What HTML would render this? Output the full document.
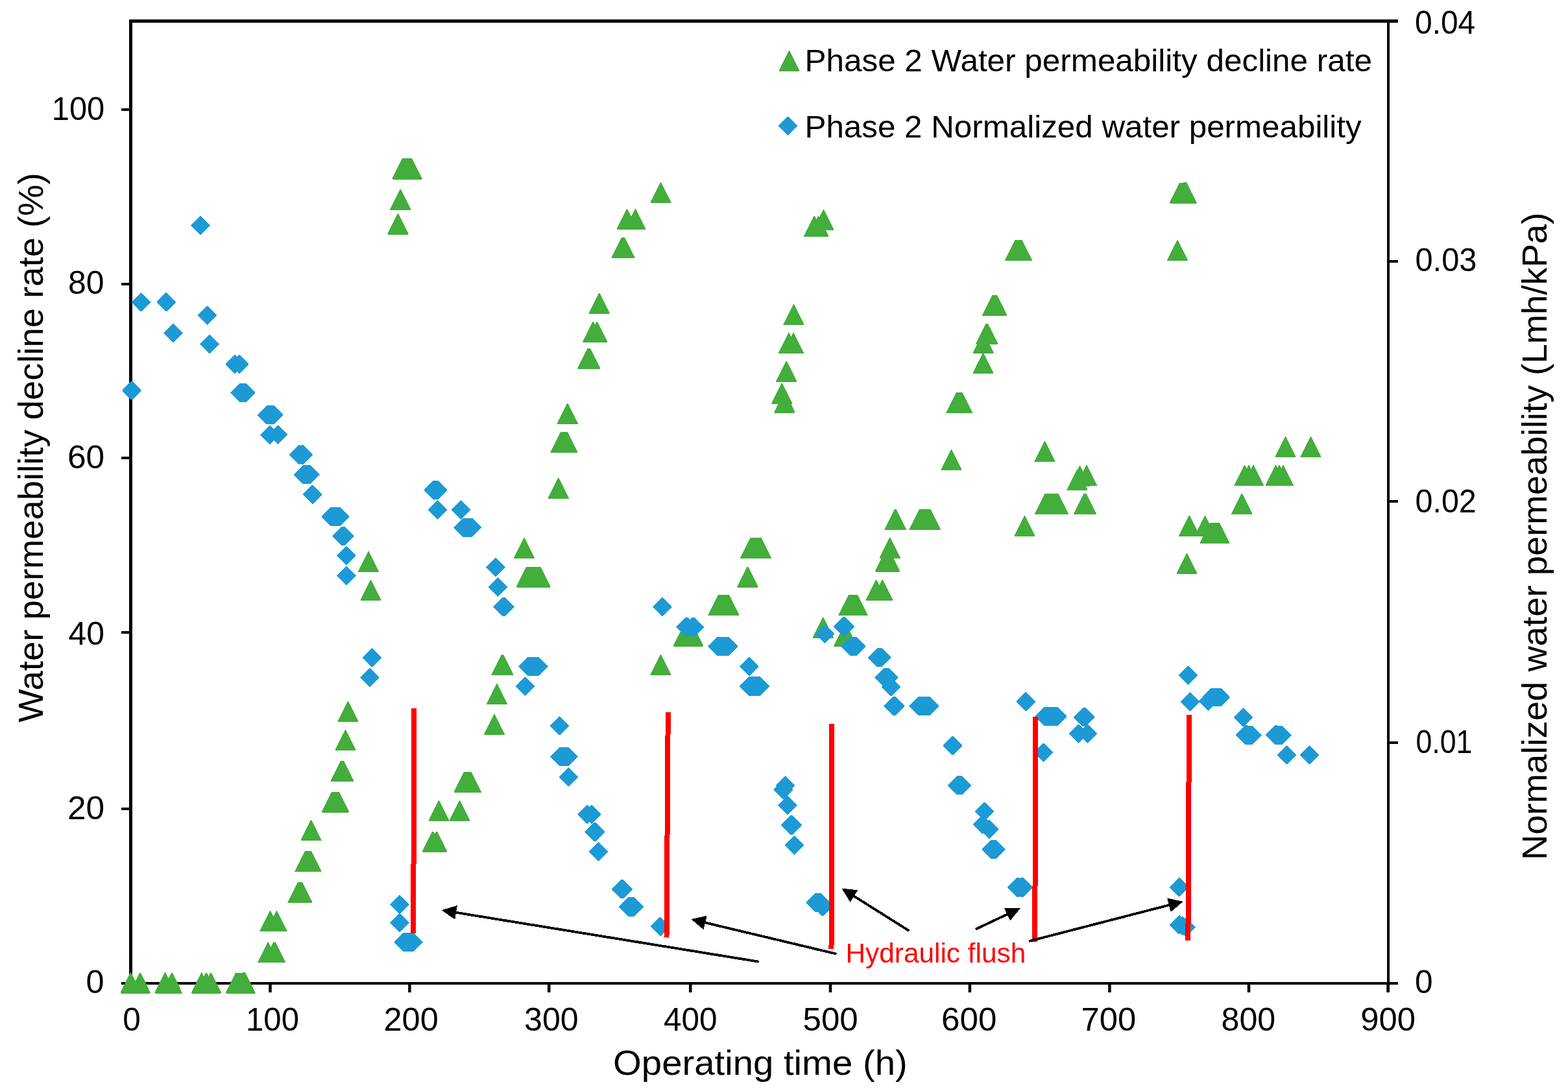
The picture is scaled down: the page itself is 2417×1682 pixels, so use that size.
<!DOCTYPE html><html><head><meta charset="utf-8"><title>Water permeability chart</title>
<style>html,body{margin:0;padding:0;background:#fff;}svg{display:block;}text{font-family:'Liberation Sans',Arial,Helvetica,sans-serif;}</style></head><body>
<svg width="2417" height="1682" viewBox="0 0 2417 1682">
<rect width="2417" height="1682" fill="#fff"/>
<g fill="#000">
<rect x="199" y="30" width="5" height="1488"/>
<rect x="199" y="30" width="1956" height="5"/>
<rect x="2138" y="30" width="4" height="1500"/>
<rect x="187" y="1514" width="1968" height="4"/>
<rect x="187" y="1514" width="12" height="4"/>
<rect x="187" y="1245" width="12" height="4"/>
<rect x="187" y="973" width="12" height="4"/>
<rect x="187" y="704" width="12" height="4"/>
<rect x="187" y="436" width="12" height="4"/>
<rect x="187" y="167" width="12" height="4"/>
<rect x="199.25" y="1518" width="4.5" height="12"/>
<rect x="414.25" y="1518" width="4.5" height="12"/>
<rect x="629.15" y="1518" width="4.5" height="12"/>
<rect x="844.0" y="1518" width="4.5" height="12"/>
<rect x="1062.0" y="1518" width="4.5" height="12"/>
<rect x="1277.75" y="1518" width="4.5" height="12"/>
<rect x="1492.65" y="1518" width="4.5" height="12"/>
<rect x="1708.15" y="1518" width="4.5" height="12"/>
<rect x="1922.75" y="1518" width="4.5" height="12"/>
<rect x="2137.25" y="1518" width="4.5" height="12"/>
<rect x="2142" y="1514" width="13" height="4"/>
<rect x="2142" y="1143" width="13" height="4"/>
<rect x="2142" y="771" width="13" height="4"/>
<rect x="2142" y="401" width="13" height="4"/>
<rect x="2142" y="30" width="13" height="4"/>
</g>
<text font-size="49.5" fill="#000" x="132.5" y="1531" textLength="28.03" lengthAdjust="spacingAndGlyphs">0</text>
<text font-size="49.5" fill="#000" x="104.0" y="1263.1" textLength="57.23" lengthAdjust="spacingAndGlyphs">20</text>
<text font-size="49.5" fill="#000" x="105.5" y="993.75" textLength="55.49" lengthAdjust="spacingAndGlyphs">40</text>
<text font-size="49.5" fill="#000" x="104.0" y="721.7" textLength="57.23" lengthAdjust="spacingAndGlyphs">60</text>
<text font-size="49.5" fill="#000" x="105.0" y="452.8" textLength="55.51" lengthAdjust="spacingAndGlyphs">80</text>
<text font-size="49.5" fill="#000" x="79.75" y="185" textLength="81.53" lengthAdjust="spacingAndGlyphs">100</text>
<text font-size="49.5" fill="#000" x="2181.0" y="1530.75" textLength="27.55" lengthAdjust="spacingAndGlyphs">0</text>
<text font-size="49.5" fill="#000" x="2182.5" y="1161" textLength="86.92" lengthAdjust="spacingAndGlyphs">0.01</text>
<text font-size="49.5" fill="#000" x="2181.5" y="789.5" textLength="94.25" lengthAdjust="spacingAndGlyphs">0.02</text>
<text font-size="49.5" fill="#000" x="2181.5" y="418.4" textLength="94.91" lengthAdjust="spacingAndGlyphs">0.03</text>
<text font-size="49.5" fill="#000" x="2181.0" y="52" textLength="93.24" lengthAdjust="spacingAndGlyphs">0.04</text>
<text font-size="49.5" fill="#000" x="189.25" y="1588.8" textLength="27.55" lengthAdjust="spacingAndGlyphs">0</text>
<text font-size="49.5" fill="#000" x="379.0" y="1588.8" textLength="81.97" lengthAdjust="spacingAndGlyphs">100</text>
<text font-size="49.5" fill="#000" x="591.5" y="1588.8" textLength="84.27" lengthAdjust="spacingAndGlyphs">200</text>
<text font-size="49.5" fill="#000" x="808.0" y="1588.8" textLength="83.64" lengthAdjust="spacingAndGlyphs">300</text>
<text font-size="49.5" fill="#000" x="1023.0" y="1588.8" textLength="82.59" lengthAdjust="spacingAndGlyphs">400</text>
<text font-size="49.5" fill="#000" x="1237.5" y="1588.8" textLength="85.14" lengthAdjust="spacingAndGlyphs">500</text>
<text font-size="49.5" fill="#000" x="1451.0" y="1588.8" textLength="85.35" lengthAdjust="spacingAndGlyphs">600</text>
<text font-size="49.5" fill="#000" x="1666.5" y="1588.8" textLength="84.71" lengthAdjust="spacingAndGlyphs">700</text>
<text font-size="49.5" fill="#000" x="1882.5" y="1588.8" textLength="83.68" lengthAdjust="spacingAndGlyphs">800</text>
<text font-size="49.5" fill="#000" x="2097.25" y="1588.8" textLength="84.72" lengthAdjust="spacingAndGlyphs">900</text>
<text font-size="54" fill="#000" x="945.0" y="1656.9" textLength="453.84" lengthAdjust="spacingAndGlyphs">Operating time (h)</text>
<text font-size="54" fill="#000" transform="translate(65.9,1113.75) rotate(-90)" textLength="847.34" lengthAdjust="spacingAndGlyphs">Water permeability decline rate (%)</text>
<text font-size="54" fill="#000" transform="translate(2384.25,1326.0) rotate(-90)" textLength="998.39" lengthAdjust="spacingAndGlyphs">Normalized water permeability (Lmh/kPa)</text>
<text font-size="48" fill="#000" x="1240.5" y="110" textLength="874.47" lengthAdjust="spacingAndGlyphs">Phase 2 Water permeability decline rate</text>
<text font-size="48" fill="#000" x="1240.5" y="212" textLength="858.14" lengthAdjust="spacingAndGlyphs">Phase 2 Normalized water permeability</text>
<path d="M1201.50,109.00L1231.50,109.00L1216.50,79.00Z" fill="#43AE3B" stroke="#43AE3B" stroke-width="2" stroke-linejoin="round" shape-rendering="crispEdges"/>
<path d="M1214.40,180.60L1228.00,194.20L1214.40,207.80L1200.80,194.20Z" fill="#1D9AD6" stroke="#1D9AD6" stroke-width="2" stroke-linejoin="round" shape-rendering="crispEdges"/>
<g fill="#43AE3B" stroke="#43AE3B" stroke-width="2" stroke-linejoin="round" shape-rendering="crispEdges"><path d="M186.60,1530.50L216.60,1530.50L201.60,1500.50ZM200.90,1530.50L230.90,1530.50L215.90,1500.50ZM239.50,1530.50L269.50,1530.50L254.50,1500.50ZM249.90,1530.50L279.90,1530.50L264.90,1500.50ZM295.70,1530.50L325.70,1530.50L310.70,1500.50ZM302.90,1530.50L332.90,1530.50L317.90,1500.50ZM310.00,1530.50L340.00,1530.50L325.00,1500.50ZM348.70,1530.50L378.70,1530.50L363.70,1500.50ZM349.76,1530.50L379.76,1530.50L364.76,1500.50ZM350.82,1530.50L380.82,1530.50L365.82,1500.50ZM351.88,1530.50L381.88,1530.50L366.88,1500.50ZM352.95,1530.50L382.95,1530.50L367.95,1500.50ZM354.01,1530.50L384.01,1530.50L369.01,1500.50ZM355.07,1530.50L385.07,1530.50L370.07,1500.50ZM356.13,1530.50L386.13,1530.50L371.13,1500.50ZM357.19,1530.50L387.19,1530.50L372.19,1500.50ZM358.25,1530.50L388.25,1530.50L373.25,1500.50ZM359.32,1530.50L389.32,1530.50L374.32,1500.50ZM360.38,1530.50L390.38,1530.50L375.38,1500.50ZM361.44,1530.50L391.44,1530.50L376.44,1500.50ZM362.50,1530.50L392.50,1530.50L377.50,1500.50ZM401.50,1435.30L431.50,1435.30L416.50,1405.30ZM411.70,1435.30L441.70,1435.30L426.70,1405.30ZM398.20,1483.40L428.20,1483.40L413.20,1453.40ZM406.70,1483.41L436.70,1483.41L421.70,1453.41ZM407.95,1483.41L437.95,1483.41L422.95,1453.41ZM409.20,1483.41L439.20,1483.41L424.20,1453.41ZM444.40,1391.30L474.40,1391.30L459.40,1361.30ZM445.42,1391.30L475.42,1391.30L460.42,1361.30ZM446.43,1391.30L476.43,1391.30L461.43,1361.30ZM447.45,1391.30L477.45,1391.30L462.45,1361.30ZM448.47,1391.30L478.47,1391.30L463.47,1361.30ZM449.48,1391.30L479.48,1391.30L464.48,1361.30ZM450.50,1391.30L480.50,1391.30L465.50,1361.30ZM455.40,1343.30L485.40,1343.30L470.40,1313.30ZM456.40,1343.30L486.40,1343.30L471.40,1313.30ZM457.40,1343.30L487.40,1343.30L472.40,1313.30ZM458.40,1343.30L488.40,1343.30L473.40,1313.30ZM459.40,1343.30L489.40,1343.30L474.40,1313.30ZM460.40,1343.30L490.40,1343.30L475.40,1313.30ZM461.40,1343.30L491.40,1343.30L476.40,1313.30ZM462.40,1343.30L492.40,1343.30L477.40,1313.30ZM463.40,1343.30L493.40,1343.30L478.40,1313.30ZM464.40,1343.30L494.40,1343.30L479.40,1313.30ZM464.60,1295.40L494.60,1295.40L479.60,1265.40ZM497.00,1251.50L527.00,1251.50L512.00,1221.50ZM498.00,1251.50L528.00,1251.50L513.00,1221.50ZM499.00,1251.50L529.00,1251.50L514.00,1221.50ZM500.00,1251.50L530.00,1251.50L515.00,1221.50ZM501.00,1251.50L531.00,1251.50L516.00,1221.50ZM502.00,1251.50L532.00,1251.50L517.00,1221.50ZM503.00,1251.50L533.00,1251.50L518.00,1221.50ZM504.00,1251.50L534.00,1251.50L519.00,1221.50ZM505.00,1251.50L535.00,1251.50L520.00,1221.50ZM506.00,1251.50L536.00,1251.50L521.00,1221.50ZM507.00,1251.50L537.00,1251.50L522.00,1221.50ZM510.75,1204.10L540.75,1204.10L525.75,1174.10ZM511.92,1204.10L541.92,1204.10L526.92,1174.10ZM513.08,1204.10L543.08,1204.10L528.08,1174.10ZM514.25,1204.10L544.25,1204.10L529.25,1174.10ZM517.50,1156.00L547.50,1156.00L532.50,1126.00ZM521.50,1112.10L551.50,1112.10L536.50,1082.10ZM553.00,880.90L583.00,880.90L568.00,850.90ZM556.50,925.00L586.50,925.00L571.50,895.00ZM1335.65,925.00L1365.65,925.00L1350.65,895.00ZM1345.35,925.00L1375.35,925.00L1360.35,895.00ZM598.50,360.50L628.50,360.50L613.50,330.50ZM602.25,323.00L632.25,323.00L617.25,293.00ZM605.50,275.50L635.50,275.50L620.50,245.50ZM606.50,275.50L636.50,275.50L621.50,245.50ZM607.50,275.50L637.50,275.50L622.50,245.50ZM608.50,275.50L638.50,275.50L623.50,245.50ZM609.50,275.50L639.50,275.50L624.50,245.50ZM610.50,275.50L640.50,275.50L625.50,245.50ZM611.50,275.50L641.50,275.50L626.50,245.50ZM612.50,275.50L642.50,275.50L627.50,245.50ZM613.50,275.50L643.50,275.50L628.50,245.50ZM614.50,275.50L644.50,275.50L629.50,245.50ZM615.50,275.50L645.50,275.50L630.50,245.50ZM616.50,275.50L646.50,275.50L631.50,245.50ZM617.50,275.50L647.50,275.50L632.50,245.50ZM618.50,275.50L648.50,275.50L633.50,245.50ZM619.50,275.50L649.50,275.50L634.50,245.50ZM651.90,1312.50L681.90,1312.50L666.90,1282.50ZM658.00,1312.50L688.00,1312.50L673.00,1282.50ZM661.50,1265.00L691.50,1265.00L676.50,1235.00ZM693.40,1265.00L723.40,1265.00L708.40,1235.00ZM700.75,1220.90L730.75,1220.90L715.75,1190.90ZM701.75,1220.90L731.75,1220.90L716.75,1190.90ZM702.75,1220.90L732.75,1220.90L717.75,1190.90ZM703.75,1220.90L733.75,1220.90L718.75,1190.90ZM704.75,1220.90L734.75,1220.90L719.75,1190.90ZM705.75,1220.90L735.75,1220.90L720.75,1190.90ZM706.75,1220.90L736.75,1220.90L721.75,1190.90ZM707.75,1220.90L737.75,1220.90L722.75,1190.90ZM708.75,1220.90L738.75,1220.90L723.75,1190.90ZM709.75,1220.90L739.75,1220.90L724.75,1190.90ZM710.75,1220.90L740.75,1220.90L725.75,1190.90ZM747.10,1132.10L777.10,1132.10L762.10,1102.10ZM750.90,1085.00L780.90,1085.00L765.90,1055.00ZM758.40,1040.40L788.40,1040.40L773.40,1010.40ZM760.35,1040.40L790.35,1040.40L775.35,1010.40ZM1003.50,1040.40L1033.50,1040.40L1018.50,1010.40ZM792.90,860.25L822.90,860.25L807.90,830.25ZM1142.00,860.25L1172.00,860.25L1157.00,830.25ZM1143.00,860.25L1173.00,860.25L1158.00,830.25ZM1144.00,860.25L1174.00,860.25L1159.00,830.25ZM1145.00,860.25L1175.00,860.25L1160.00,830.25ZM1146.00,860.25L1176.00,860.25L1161.00,830.25ZM1147.00,860.25L1177.00,860.25L1162.00,830.25ZM1148.00,860.25L1178.00,860.25L1163.00,830.25ZM1149.00,860.25L1179.00,860.25L1164.00,830.25ZM1150.00,860.25L1180.00,860.25L1165.00,830.25ZM1151.00,860.25L1181.00,860.25L1166.00,830.25ZM1152.00,860.25L1182.00,860.25L1167.00,830.25ZM1153.00,860.25L1183.00,860.25L1168.00,830.25ZM1154.00,860.25L1184.00,860.25L1169.00,830.25ZM1155.00,860.25L1185.00,860.25L1170.00,830.25ZM1156.00,860.25L1186.00,860.25L1171.00,830.25ZM1157.00,860.25L1187.00,860.25L1172.00,830.25ZM1158.00,860.25L1188.00,860.25L1173.00,830.25ZM797.00,904.60L827.00,904.60L812.00,874.60ZM798.02,904.60L828.02,904.60L813.02,874.60ZM799.05,904.60L829.05,904.60L814.05,874.60ZM800.08,904.60L830.08,904.60L815.08,874.60ZM801.10,904.60L831.10,904.60L816.10,874.60ZM802.12,904.60L832.12,904.60L817.12,874.60ZM803.15,904.60L833.15,904.60L818.15,874.60ZM804.17,904.60L834.17,904.60L819.17,874.60ZM805.20,904.60L835.20,904.60L820.20,874.60ZM806.23,904.60L836.23,904.60L821.23,874.60ZM807.25,904.60L837.25,904.60L822.25,874.60ZM808.27,904.60L838.27,904.60L823.27,874.60ZM809.30,904.60L839.30,904.60L824.30,874.60ZM810.33,904.60L840.33,904.60L825.33,874.60ZM811.35,904.60L841.35,904.60L826.35,874.60ZM812.38,904.60L842.38,904.60L827.38,874.60ZM813.40,904.60L843.40,904.60L828.40,874.60ZM814.42,904.60L844.42,904.60L829.42,874.60ZM815.45,904.60L845.45,904.60L830.45,874.60ZM816.48,904.60L846.48,904.60L831.48,874.60ZM817.50,904.60L847.50,904.60L832.50,874.60ZM1137.50,904.60L1167.50,904.60L1152.50,874.60ZM845.90,767.90L875.90,767.90L860.90,737.90ZM849.40,697.10L879.40,697.10L864.40,667.10ZM850.51,697.10L880.51,697.10L865.51,667.10ZM851.61,697.10L881.61,697.10L866.61,667.10ZM852.72,697.10L882.72,697.10L867.72,667.10ZM853.82,697.10L883.82,697.10L868.82,667.10ZM854.93,697.10L884.93,697.10L869.93,667.10ZM856.03,697.10L886.03,697.10L871.03,667.10ZM857.14,697.10L887.14,697.10L872.14,667.10ZM858.24,697.10L888.24,697.10L873.24,667.10ZM859.35,697.10L889.35,697.10L874.35,667.10ZM859.75,652.90L889.75,652.90L874.75,622.90ZM891.40,567.90L921.40,567.90L906.40,537.90ZM892.75,567.90L922.75,567.90L907.75,537.90ZM894.10,567.90L924.10,567.90L909.10,537.90ZM899.40,526.90L929.40,526.90L914.40,496.90ZM905.40,526.90L935.40,526.90L920.40,496.90ZM908.75,482.60L938.75,482.60L923.75,452.60ZM943.75,397.25L973.75,397.25L958.75,367.25ZM945.00,397.25L975.00,397.25L960.00,367.25ZM946.25,397.25L976.25,397.25L961.25,367.25ZM947.50,397.25L977.50,397.25L962.50,367.25ZM951.50,353.25L981.50,353.25L966.50,323.25ZM964.50,353.25L994.50,353.25L979.50,323.25ZM1003.75,312.25L1033.75,312.25L1018.75,282.25ZM1038.90,995.50L1068.90,995.50L1053.90,965.50ZM1039.91,995.50L1069.91,995.50L1054.91,965.50ZM1040.93,995.50L1070.93,995.50L1055.93,965.50ZM1041.94,995.50L1071.94,995.50L1056.94,965.50ZM1042.96,995.50L1072.96,995.50L1057.96,965.50ZM1043.97,995.50L1073.97,995.50L1058.97,965.50ZM1044.99,995.50L1074.99,995.50L1059.99,965.50ZM1046.00,995.50L1076.00,995.50L1061.00,965.50ZM1047.01,995.50L1077.01,995.50L1062.01,965.50ZM1048.03,995.50L1078.03,995.50L1063.03,965.50ZM1049.04,995.50L1079.04,995.50L1064.04,965.50ZM1050.06,995.50L1080.06,995.50L1065.06,965.50ZM1051.07,995.50L1081.07,995.50L1066.07,965.50ZM1052.09,995.50L1082.09,995.50L1067.09,965.50ZM1053.10,995.50L1083.10,995.50L1068.10,965.50ZM1092.50,948.40L1122.50,948.40L1107.50,918.40ZM1093.50,948.40L1123.50,948.40L1108.50,918.40ZM1094.50,948.40L1124.50,948.40L1109.50,918.40ZM1095.50,948.40L1125.50,948.40L1110.50,918.40ZM1096.50,948.40L1126.50,948.40L1111.50,918.40ZM1097.50,948.40L1127.50,948.40L1112.50,918.40ZM1098.50,948.40L1128.50,948.40L1113.50,918.40ZM1099.50,948.40L1129.50,948.40L1114.50,918.40ZM1100.50,948.40L1130.50,948.40L1115.50,918.40ZM1101.50,948.40L1131.50,948.40L1116.50,918.40ZM1102.50,948.40L1132.50,948.40L1117.50,918.40ZM1103.50,948.40L1133.50,948.40L1118.50,918.40ZM1104.50,948.40L1134.50,948.40L1119.50,918.40ZM1105.50,948.40L1135.50,948.40L1120.50,918.40ZM1106.50,948.40L1136.50,948.40L1121.50,918.40ZM1107.50,948.40L1137.50,948.40L1122.50,918.40ZM1108.50,948.40L1138.50,948.40L1123.50,918.40ZM1293.40,948.40L1323.40,948.40L1308.40,918.40ZM1294.42,948.40L1324.42,948.40L1309.42,918.40ZM1295.43,948.40L1325.43,948.40L1310.43,918.40ZM1296.45,948.40L1326.45,948.40L1311.45,918.40ZM1297.46,948.40L1327.46,948.40L1312.46,918.40ZM1298.48,948.40L1328.48,948.40L1313.48,918.40ZM1299.49,948.40L1329.49,948.40L1314.49,918.40ZM1300.51,948.40L1330.51,948.40L1315.51,918.40ZM1301.52,948.40L1331.52,948.40L1316.52,918.40ZM1302.54,948.40L1332.54,948.40L1317.54,918.40ZM1303.55,948.40L1333.55,948.40L1318.55,918.40ZM1304.57,948.40L1334.57,948.40L1319.57,918.40ZM1305.58,948.40L1335.58,948.40L1320.58,918.40ZM1306.60,948.40L1336.60,948.40L1321.60,918.40ZM1194.40,635.50L1224.40,635.50L1209.40,605.50ZM1190.40,621.90L1220.40,621.90L1205.40,591.90ZM1197.25,588.10L1227.25,588.10L1212.25,558.10ZM1200.90,544.10L1230.90,544.10L1215.90,514.10ZM1207.85,544.10L1237.85,544.10L1222.85,514.10ZM1208.40,500.00L1238.40,500.00L1223.40,470.00ZM1240.25,364.00L1270.25,364.00L1255.25,334.00ZM1246.50,364.00L1276.50,364.00L1261.50,334.00ZM1254.50,353.80L1284.50,353.80L1269.50,323.80ZM1253.75,982.90L1283.75,982.90L1268.75,952.90ZM1286.25,995.75L1316.25,995.75L1301.25,965.75ZM1287.31,995.75L1317.31,995.75L1302.31,965.75ZM1288.38,995.75L1318.38,995.75L1303.38,965.75ZM1289.44,995.75L1319.44,995.75L1304.44,965.75ZM1290.50,995.75L1320.50,995.75L1305.50,965.75ZM1349.65,880.50L1379.65,880.50L1364.65,850.50ZM1350.73,880.50L1380.73,880.50L1365.73,850.50ZM1351.80,880.50L1381.80,880.50L1366.80,850.50ZM1352.88,880.50L1382.88,880.50L1367.88,850.50ZM1353.95,880.50L1383.95,880.50L1368.95,850.50ZM1355.02,880.50L1385.02,880.50L1370.02,850.50ZM1356.10,880.50L1386.10,880.50L1371.10,850.50ZM1356.90,859.75L1386.90,859.75L1371.90,829.75ZM1364.40,816.00L1394.40,816.00L1379.40,786.00ZM1366.10,816.00L1396.10,816.00L1381.10,786.00ZM1402.40,816.00L1432.40,816.00L1417.40,786.00ZM1403.44,816.00L1433.44,816.00L1418.44,786.00ZM1404.49,816.00L1434.49,816.00L1419.49,786.00ZM1405.53,816.00L1435.53,816.00L1420.53,786.00ZM1406.58,816.00L1436.58,816.00L1421.58,786.00ZM1407.62,816.00L1437.62,816.00L1422.62,786.00ZM1408.66,816.00L1438.66,816.00L1423.66,786.00ZM1409.71,816.00L1439.71,816.00L1424.71,786.00ZM1410.75,816.00L1440.75,816.00L1425.75,786.00ZM1411.79,816.00L1441.79,816.00L1426.79,786.00ZM1412.84,816.00L1442.84,816.00L1427.84,786.00ZM1413.88,816.00L1443.88,816.00L1428.88,786.00ZM1414.92,816.00L1444.92,816.00L1429.92,786.00ZM1415.97,816.00L1445.97,816.00L1430.97,786.00ZM1417.01,816.00L1447.01,816.00L1432.01,786.00ZM1418.06,816.00L1448.06,816.00L1433.06,786.00ZM1419.10,816.00L1449.10,816.00L1434.10,786.00ZM1451.60,724.10L1481.60,724.10L1466.60,694.10ZM1459.40,636.10L1489.40,636.10L1474.40,606.10ZM1460.46,636.10L1490.46,636.10L1475.46,606.10ZM1461.51,636.10L1491.51,636.10L1476.51,606.10ZM1462.57,636.10L1492.57,636.10L1477.57,606.10ZM1463.62,636.10L1493.62,636.10L1478.62,606.10ZM1464.68,636.10L1494.68,636.10L1479.68,606.10ZM1465.74,636.10L1495.74,636.10L1480.74,606.10ZM1466.79,636.10L1496.79,636.10L1481.79,606.10ZM1467.85,636.10L1497.85,636.10L1482.85,606.10ZM1500.60,575.00L1530.60,575.00L1515.60,545.00ZM1500.60,543.75L1530.60,543.75L1515.60,513.75ZM1505.15,529.75L1535.15,529.75L1520.15,499.75ZM1506.25,529.75L1536.25,529.75L1521.25,499.75ZM1507.35,529.75L1537.35,529.75L1522.35,499.75ZM1515.15,485.90L1545.15,485.90L1530.15,455.90ZM1516.34,485.90L1546.34,485.90L1531.34,455.90ZM1517.53,485.90L1547.53,485.90L1532.53,455.90ZM1518.72,485.90L1548.72,485.90L1533.72,455.90ZM1519.91,485.90L1549.91,485.90L1534.91,455.90ZM1521.10,485.90L1551.10,485.90L1536.10,455.90ZM1550.15,401.25L1580.15,401.25L1565.15,371.25ZM1551.26,401.25L1581.26,401.25L1566.26,371.25ZM1552.36,401.25L1582.36,401.25L1567.36,371.25ZM1553.47,401.25L1583.47,401.25L1568.47,371.25ZM1554.57,401.25L1584.57,401.25L1569.57,371.25ZM1555.68,401.25L1585.68,401.25L1570.68,371.25ZM1556.78,401.25L1586.78,401.25L1571.78,371.25ZM1557.89,401.25L1587.89,401.25L1572.89,371.25ZM1558.99,401.25L1588.99,401.25L1573.99,371.25ZM1560.10,401.25L1590.10,401.25L1575.10,371.25ZM1800.25,401.25L1830.25,401.25L1815.25,371.25ZM1564.60,826.10L1594.60,826.10L1579.60,796.10ZM1595.40,711.25L1625.40,711.25L1610.40,681.25ZM1595.90,792.10L1625.90,792.10L1610.90,762.10ZM1596.91,792.10L1626.91,792.10L1611.91,762.10ZM1597.92,792.10L1627.92,792.10L1612.92,762.10ZM1598.93,792.10L1628.93,792.10L1613.93,762.10ZM1599.94,792.10L1629.94,792.10L1614.94,762.10ZM1600.95,792.10L1630.95,792.10L1615.95,762.10ZM1601.96,792.10L1631.96,792.10L1616.96,762.10ZM1602.97,792.10L1632.97,792.10L1617.97,762.10ZM1603.98,792.10L1633.98,792.10L1618.98,762.10ZM1604.99,792.10L1634.99,792.10L1619.99,762.10ZM1606.00,792.10L1636.00,792.10L1621.00,762.10ZM1607.01,792.10L1637.01,792.10L1622.01,762.10ZM1608.02,792.10L1638.02,792.10L1623.02,762.10ZM1609.03,792.10L1639.03,792.10L1624.03,762.10ZM1610.04,792.10L1640.04,792.10L1625.04,762.10ZM1611.05,792.10L1641.05,792.10L1626.05,762.10ZM1612.06,792.10L1642.06,792.10L1627.06,762.10ZM1613.07,792.10L1643.07,792.10L1628.07,762.10ZM1614.08,792.10L1644.08,792.10L1629.08,762.10ZM1615.09,792.10L1645.09,792.10L1630.09,762.10ZM1616.10,792.10L1646.10,792.10L1631.10,762.10ZM1655.90,792.10L1685.90,792.10L1670.90,762.10ZM1656.97,792.10L1686.97,792.10L1671.97,762.10ZM1658.03,792.10L1688.03,792.10L1673.03,762.10ZM1659.10,792.10L1689.10,792.10L1674.10,762.10ZM1645.40,755.00L1675.40,755.00L1660.40,725.00ZM1649.40,749.00L1679.40,749.00L1664.40,719.00ZM1659.90,748.30L1689.90,748.30L1674.90,718.30ZM1803.90,312.50L1833.90,312.50L1818.90,282.50ZM1804.98,312.50L1834.98,312.50L1819.98,282.50ZM1806.06,312.50L1836.06,312.50L1821.06,282.50ZM1807.13,312.50L1837.13,312.50L1822.13,282.50ZM1808.21,312.50L1838.21,312.50L1823.21,282.50ZM1809.29,312.50L1839.29,312.50L1824.29,282.50ZM1810.37,312.50L1840.37,312.50L1825.37,282.50ZM1811.44,312.50L1841.44,312.50L1826.44,282.50ZM1812.52,312.50L1842.52,312.50L1827.52,282.50ZM1813.60,312.50L1843.60,312.50L1828.60,282.50ZM1814.50,884.20L1844.50,884.20L1829.50,854.20ZM1818.30,826.00L1848.30,826.00L1833.30,796.00ZM1842.60,826.00L1872.60,826.00L1857.60,796.00ZM1850.70,836.90L1880.70,836.90L1865.70,806.90ZM1851.75,836.90L1881.75,836.90L1866.75,806.90ZM1852.79,836.90L1882.79,836.90L1867.79,806.90ZM1853.84,836.90L1883.84,836.90L1868.84,806.90ZM1854.88,836.90L1884.88,836.90L1869.88,806.90ZM1855.93,836.90L1885.93,836.90L1870.93,806.90ZM1856.98,836.90L1886.98,836.90L1871.98,806.90ZM1858.02,836.90L1888.02,836.90L1873.02,806.90ZM1859.07,836.90L1889.07,836.90L1874.07,806.90ZM1860.12,836.90L1890.12,836.90L1875.12,806.90ZM1861.16,836.90L1891.16,836.90L1876.16,806.90ZM1862.21,836.90L1892.21,836.90L1877.21,806.90ZM1863.25,836.90L1893.25,836.90L1878.25,806.90ZM1864.30,836.90L1894.30,836.90L1879.30,806.90ZM1899.30,792.00L1929.30,792.00L1914.30,762.00ZM1903.30,748.25L1933.30,748.25L1918.30,718.25ZM1909.90,748.25L1939.90,748.25L1924.90,718.25ZM1917.10,748.25L1947.10,748.25L1932.10,718.25ZM1951.50,748.25L1981.50,748.25L1966.50,718.25ZM1957.00,748.25L1987.00,748.25L1972.00,718.25ZM1962.90,748.25L1992.90,748.25L1977.90,718.25ZM1966.60,704.20L1996.60,704.20L1981.60,674.20ZM2005.40,704.20L2035.40,704.20L2020.40,674.20Z"/></g>
<g fill="#1D9AD6" stroke="#1D9AD6" stroke-width="2" stroke-linejoin="round" shape-rendering="crispEdges"><path d="M203.00,588.40L216.60,602.00L203.00,615.60L189.40,602.00ZM217.50,452.15L231.10,465.75L217.50,479.35L203.90,465.75ZM256.25,452.15L269.85,465.75L256.25,479.35L242.65,465.75ZM267.00,500.15L280.60,513.75L267.00,527.35L253.40,513.75ZM309.00,333.65L322.60,347.25L309.00,360.85L295.40,347.25ZM319.50,472.65L333.10,486.25L319.50,499.85L305.90,486.25ZM323.00,516.90L336.60,530.50L323.00,544.10L309.40,530.50ZM362.25,547.90L375.85,561.50L362.25,575.10L348.65,561.50ZM368.75,547.90L382.35,561.50L368.75,575.10L355.15,561.50ZM370.00,591.90L383.60,605.50L370.00,619.10L356.40,605.50ZM371.09,591.90L384.69,605.50L371.09,619.10L357.49,605.50ZM372.19,591.90L385.79,605.50L372.19,619.10L358.59,605.50ZM373.28,591.90L386.88,605.50L373.28,619.10L359.68,605.50ZM374.38,591.90L387.98,605.50L374.38,619.10L360.77,605.50ZM375.47,591.90L389.07,605.50L375.47,619.10L361.87,605.50ZM376.56,591.90L390.16,605.50L376.56,619.10L362.96,605.50ZM377.66,591.90L391.26,605.50L377.66,619.10L364.06,605.50ZM378.75,591.90L392.35,605.50L378.75,619.10L365.15,605.50ZM411.50,626.15L425.10,639.75L411.50,653.35L397.90,639.75ZM412.52,626.15L426.12,639.75L412.52,653.35L398.92,639.75ZM413.55,626.15L427.15,639.75L413.55,653.35L399.95,639.75ZM414.57,626.15L428.18,639.75L414.57,653.35L400.97,639.75ZM415.60,626.15L429.20,639.75L415.60,653.35L402.00,639.75ZM416.62,626.15L430.23,639.75L416.62,653.35L403.02,639.75ZM417.65,626.15L431.25,639.75L417.65,653.35L404.05,639.75ZM418.68,626.15L432.28,639.75L418.68,653.35L405.07,639.75ZM419.70,626.15L433.30,639.75L419.70,653.35L406.10,639.75ZM420.73,626.15L434.33,639.75L420.73,653.35L407.12,639.75ZM421.75,626.15L435.35,639.75L421.75,653.35L408.15,639.75ZM416.00,656.65L429.60,670.25L416.00,683.85L402.40,670.25ZM428.50,656.65L442.10,670.25L428.50,683.85L414.90,670.25ZM460.75,687.40L474.35,701.00L460.75,714.60L447.15,701.00ZM461.88,687.40L475.48,701.00L461.88,714.60L448.27,701.00ZM463.00,687.40L476.60,701.00L463.00,714.60L449.40,701.00ZM464.12,687.40L477.73,701.00L464.12,714.60L450.52,701.00ZM465.25,687.40L478.85,701.00L465.25,714.60L451.65,701.00ZM466.38,687.40L479.98,701.00L466.38,714.60L452.77,701.00ZM467.50,687.40L481.10,701.00L467.50,714.60L453.90,701.00ZM467.50,718.15L481.10,731.75L467.50,745.35L453.90,731.75ZM468.55,718.15L482.15,731.75L468.55,745.35L454.95,731.75ZM469.60,718.15L483.20,731.75L469.60,745.35L456.00,731.75ZM470.65,718.15L484.25,731.75L470.65,745.35L457.05,731.75ZM471.70,718.15L485.30,731.75L471.70,745.35L458.10,731.75ZM472.75,718.15L486.35,731.75L472.75,745.35L459.15,731.75ZM473.80,718.15L487.40,731.75L473.80,745.35L460.20,731.75ZM474.85,718.15L488.45,731.75L474.85,745.35L461.25,731.75ZM475.90,718.15L489.50,731.75L475.90,745.35L462.30,731.75ZM476.95,718.15L490.55,731.75L476.95,745.35L463.35,731.75ZM478.00,718.15L491.60,731.75L478.00,745.35L464.40,731.75ZM481.60,748.80L495.20,762.40L481.60,776.00L468.00,762.40ZM510.25,782.65L523.85,796.25L510.25,809.85L496.65,796.25ZM511.29,782.65L524.89,796.25L511.29,809.85L497.69,796.25ZM512.33,782.65L525.93,796.25L512.33,809.85L498.73,796.25ZM513.37,782.65L526.97,796.25L513.37,809.85L499.77,796.25ZM514.40,782.65L528.00,796.25L514.40,809.85L500.80,796.25ZM515.44,782.65L529.04,796.25L515.44,809.85L501.84,796.25ZM516.48,782.65L530.08,796.25L516.48,809.85L502.88,796.25ZM517.52,782.65L531.12,796.25L517.52,809.85L503.92,796.25ZM518.56,782.65L532.16,796.25L518.56,809.85L504.96,796.25ZM519.60,782.65L533.20,796.25L519.60,809.85L506.00,796.25ZM520.63,782.65L534.23,796.25L520.63,809.85L507.03,796.25ZM521.67,782.65L535.27,796.25L521.67,809.85L508.07,796.25ZM522.71,782.65L536.31,796.25L522.71,809.85L509.11,796.25ZM523.75,782.65L537.35,796.25L523.75,809.85L510.15,796.25ZM527.00,813.15L540.60,826.75L527.00,840.35L513.40,826.75ZM528.00,813.15L541.60,826.75L528.00,840.35L514.40,826.75ZM529.00,813.15L542.60,826.75L529.00,840.35L515.40,826.75ZM530.00,813.15L543.60,826.75L530.00,840.35L516.40,826.75ZM531.00,813.15L544.60,826.75L531.00,840.35L517.40,826.75ZM533.90,843.15L547.50,856.75L533.90,870.35L520.30,856.75ZM533.90,873.90L547.50,887.50L533.90,901.10L520.30,887.50ZM569.90,1031.15L583.50,1044.75L569.90,1058.35L556.30,1044.75ZM573.10,1000.40L586.70,1014.00L573.10,1027.60L559.50,1014.00ZM616.00,1381.20L629.60,1394.80L616.00,1408.40L602.40,1394.80ZM616.00,1408.60L629.60,1422.20L616.00,1435.80L602.40,1422.20ZM622.40,1439.00L636.00,1452.60L622.40,1466.20L608.80,1452.60ZM623.44,1439.00L637.04,1452.60L623.44,1466.20L609.84,1452.60ZM624.49,1439.00L638.09,1452.60L624.49,1466.20L610.89,1452.60ZM625.53,1439.00L639.13,1452.60L625.53,1466.20L611.93,1452.60ZM626.57,1439.00L640.17,1452.60L626.57,1466.20L612.97,1452.60ZM627.61,1439.00L641.21,1452.60L627.61,1466.20L614.01,1452.60ZM628.66,1439.00L642.26,1452.60L628.66,1466.20L615.06,1452.60ZM629.70,1439.00L643.30,1452.60L629.70,1466.20L616.10,1452.60ZM630.74,1439.00L644.34,1452.60L630.74,1466.20L617.14,1452.60ZM631.79,1439.00L645.39,1452.60L631.79,1466.20L618.19,1452.60ZM632.83,1439.00L646.43,1452.60L632.83,1466.20L619.23,1452.60ZM633.87,1439.00L647.47,1452.60L633.87,1466.20L620.27,1452.60ZM634.91,1439.00L648.51,1452.60L634.91,1466.20L621.31,1452.60ZM635.96,1439.00L649.56,1452.60L635.96,1466.20L622.36,1452.60ZM637.00,1439.00L650.60,1452.60L637.00,1466.20L623.40,1452.60ZM668.25,741.65L681.85,755.25L668.25,768.85L654.65,755.25ZM669.33,741.65L682.93,755.25L669.33,768.85L655.73,755.25ZM670.42,741.65L684.02,755.25L670.42,768.85L656.82,755.25ZM671.50,741.65L685.10,755.25L671.50,768.85L657.90,755.25ZM672.58,741.65L686.18,755.25L672.58,768.85L658.98,755.25ZM673.67,741.65L687.27,755.25L673.67,768.85L660.07,755.25ZM674.75,741.65L688.35,755.25L674.75,768.85L661.15,755.25ZM674.90,772.40L688.50,786.00L674.90,799.60L661.30,786.00ZM710.10,772.40L723.70,786.00L710.10,799.60L696.50,786.00ZM714.00,799.65L727.60,813.25L714.00,826.85L700.40,813.25ZM715.04,799.65L728.64,813.25L715.04,826.85L701.44,813.25ZM716.08,799.65L729.68,813.25L716.08,826.85L702.48,813.25ZM717.12,799.65L730.72,813.25L717.12,826.85L703.52,813.25ZM718.15,799.65L731.75,813.25L718.15,826.85L704.55,813.25ZM719.19,799.65L732.79,813.25L719.19,826.85L705.59,813.25ZM720.23,799.65L733.83,813.25L720.23,826.85L706.63,813.25ZM721.27,799.65L734.87,813.25L721.27,826.85L707.67,813.25ZM722.31,799.65L735.91,813.25L722.31,826.85L708.71,813.25ZM723.35,799.65L736.95,813.25L723.35,826.85L709.75,813.25ZM724.38,799.65L737.98,813.25L724.38,826.85L710.78,813.25ZM725.42,799.65L739.02,813.25L725.42,826.85L711.82,813.25ZM726.46,799.65L740.06,813.25L726.46,826.85L712.86,813.25ZM727.50,799.65L741.10,813.25L727.50,826.85L713.90,813.25ZM764.00,860.90L777.60,874.50L764.00,888.10L750.40,874.50ZM767.40,891.40L781.00,905.00L767.40,918.60L753.80,905.00ZM774.60,921.90L788.20,935.50L774.60,949.10L761.00,935.50ZM775.70,921.90L789.30,935.50L775.70,949.10L762.10,935.50ZM776.80,921.90L790.40,935.50L776.80,949.10L763.20,935.50ZM777.90,921.90L791.50,935.50L777.90,949.10L764.30,935.50ZM809.40,1044.30L823.00,1057.90L809.40,1071.50L795.80,1057.90ZM1154.60,1044.30L1168.20,1057.90L1154.60,1071.50L1141.00,1057.90ZM1155.60,1044.30L1169.20,1057.90L1155.60,1071.50L1142.00,1057.90ZM1156.61,1044.30L1170.21,1057.90L1156.61,1071.50L1143.01,1057.90ZM1157.61,1044.30L1171.21,1057.90L1157.61,1071.50L1144.01,1057.90ZM1158.61,1044.30L1172.21,1057.90L1158.61,1071.50L1145.01,1057.90ZM1159.61,1044.30L1173.21,1057.90L1159.61,1071.50L1146.01,1057.90ZM1160.62,1044.30L1174.22,1057.90L1160.62,1071.50L1147.02,1057.90ZM1161.62,1044.30L1175.22,1057.90L1161.62,1071.50L1148.02,1057.90ZM1162.62,1044.30L1176.22,1057.90L1162.62,1071.50L1149.02,1057.90ZM1163.63,1044.30L1177.23,1057.90L1163.63,1071.50L1150.03,1057.90ZM1164.63,1044.30L1178.23,1057.90L1164.63,1071.50L1151.03,1057.90ZM1165.63,1044.30L1179.23,1057.90L1165.63,1071.50L1152.03,1057.90ZM1166.64,1044.30L1180.24,1057.90L1166.64,1071.50L1153.04,1057.90ZM1167.64,1044.30L1181.24,1057.90L1167.64,1071.50L1154.04,1057.90ZM1168.64,1044.30L1182.24,1057.90L1168.64,1071.50L1155.04,1057.90ZM1169.64,1044.30L1183.24,1057.90L1169.64,1071.50L1156.04,1057.90ZM1170.65,1044.30L1184.25,1057.90L1170.65,1071.50L1157.05,1057.90ZM1171.65,1044.30L1185.25,1057.90L1171.65,1071.50L1158.05,1057.90ZM813.85,1013.90L827.45,1027.50L813.85,1041.10L800.25,1027.50ZM814.85,1013.90L828.45,1027.50L814.85,1041.10L801.25,1027.50ZM815.86,1013.90L829.46,1027.50L815.86,1041.10L802.26,1027.50ZM816.86,1013.90L830.46,1027.50L816.86,1041.10L803.26,1027.50ZM817.86,1013.90L831.46,1027.50L817.86,1041.10L804.26,1027.50ZM818.87,1013.90L832.47,1027.50L818.87,1041.10L805.27,1027.50ZM819.87,1013.90L833.47,1027.50L819.87,1041.10L806.27,1027.50ZM820.87,1013.90L834.47,1027.50L820.87,1041.10L807.27,1027.50ZM821.88,1013.90L835.48,1027.50L821.88,1041.10L808.27,1027.50ZM822.88,1013.90L836.48,1027.50L822.88,1041.10L809.28,1027.50ZM823.88,1013.90L837.48,1027.50L823.88,1041.10L810.28,1027.50ZM824.88,1013.90L838.48,1027.50L824.88,1041.10L811.28,1027.50ZM825.89,1013.90L839.49,1027.50L825.89,1041.10L812.29,1027.50ZM826.89,1013.90L840.49,1027.50L826.89,1041.10L813.29,1027.50ZM827.89,1013.90L841.49,1027.50L827.89,1041.10L814.29,1027.50ZM828.90,1013.90L842.50,1027.50L828.90,1041.10L815.30,1027.50ZM829.90,1013.90L843.50,1027.50L829.90,1041.10L816.30,1027.50ZM1154.60,1013.90L1168.20,1027.50L1154.60,1041.10L1141.00,1027.50ZM862.40,1105.15L876.00,1118.75L862.40,1132.35L848.80,1118.75ZM862.60,1152.90L876.20,1166.50L862.60,1180.10L849.00,1166.50ZM863.64,1152.90L877.24,1166.50L863.64,1180.10L850.04,1166.50ZM864.68,1152.90L878.28,1166.50L864.68,1180.10L851.08,1166.50ZM865.73,1152.90L879.33,1166.50L865.73,1180.10L852.13,1166.50ZM866.77,1152.90L880.37,1166.50L866.77,1180.10L853.17,1166.50ZM867.81,1152.90L881.41,1166.50L867.81,1180.10L854.21,1166.50ZM868.85,1152.90L882.45,1166.50L868.85,1180.10L855.25,1166.50ZM869.90,1152.90L883.50,1166.50L869.90,1180.10L856.30,1166.50ZM870.94,1152.90L884.54,1166.50L870.94,1180.10L857.34,1166.50ZM871.98,1152.90L885.58,1166.50L871.98,1180.10L858.38,1166.50ZM873.02,1152.90L886.62,1166.50L873.02,1180.10L859.42,1166.50ZM874.07,1152.90L887.67,1166.50L874.07,1180.10L860.47,1166.50ZM875.11,1152.90L888.71,1166.50L875.11,1180.10L861.51,1166.50ZM876.15,1152.90L889.75,1166.50L876.15,1180.10L862.55,1166.50ZM876.40,1184.15L890.00,1197.75L876.40,1211.35L862.80,1197.75ZM904.60,1241.90L918.20,1255.50L904.60,1269.10L891.00,1255.50ZM911.65,1241.90L925.25,1255.50L911.65,1269.10L898.05,1255.50ZM915.85,1269.15L929.45,1282.75L915.85,1296.35L902.25,1282.75ZM916.88,1269.15L930.48,1282.75L916.88,1296.35L903.27,1282.75ZM917.90,1269.15L931.50,1282.75L917.90,1296.35L904.30,1282.75ZM922.40,1299.50L936.00,1313.10L922.40,1326.70L908.80,1313.10ZM957.60,1357.00L971.20,1370.60L957.60,1384.20L944.00,1370.60ZM959.00,1357.00L972.60,1370.60L959.00,1384.20L945.40,1370.60ZM960.40,1357.00L974.00,1370.60L960.40,1384.20L946.80,1370.60ZM968.85,1384.40L982.45,1398.00L968.85,1411.60L955.25,1398.00ZM969.86,1384.40L983.46,1398.00L969.86,1411.60L956.26,1398.00ZM970.86,1384.40L984.46,1398.00L970.86,1411.60L957.26,1398.00ZM971.87,1384.40L985.47,1398.00L971.87,1411.60L958.27,1398.00ZM972.87,1384.40L986.47,1398.00L972.87,1411.60L959.27,1398.00ZM973.88,1384.40L987.48,1398.00L973.88,1411.60L960.28,1398.00ZM974.88,1384.40L988.48,1398.00L974.88,1411.60L961.28,1398.00ZM975.89,1384.40L989.49,1398.00L975.89,1411.60L962.29,1398.00ZM976.89,1384.40L990.49,1398.00L976.89,1411.60L963.29,1398.00ZM977.90,1384.40L991.50,1398.00L977.90,1411.60L964.30,1398.00ZM1268.00,1384.40L1281.60,1398.00L1268.00,1411.60L1254.40,1398.00ZM1017.60,1414.80L1031.20,1428.40L1017.60,1442.00L1004.00,1428.40ZM1020.90,922.00L1034.50,935.60L1020.90,949.20L1007.30,935.60ZM1056.60,952.90L1070.20,966.50L1056.60,980.10L1043.00,966.50ZM1057.73,952.90L1071.33,966.50L1057.73,980.10L1044.13,966.50ZM1058.87,952.90L1072.47,966.50L1058.87,980.10L1045.27,966.50ZM1060.00,952.90L1073.60,966.50L1060.00,980.10L1046.40,966.50ZM1066.60,952.91L1080.20,966.51L1066.60,980.11L1053.00,966.51ZM1067.90,952.91L1081.50,966.51L1067.90,980.11L1054.30,966.51ZM1069.20,952.91L1082.80,966.51L1069.20,980.11L1055.60,966.51ZM1070.50,952.91L1084.10,966.51L1070.50,980.11L1056.90,966.51ZM1105.85,983.15L1119.45,996.75L1105.85,1010.35L1092.25,996.75ZM1106.85,983.15L1120.45,996.75L1106.85,1010.35L1093.25,996.75ZM1107.86,983.15L1121.46,996.75L1107.86,1010.35L1094.26,996.75ZM1108.86,983.15L1122.46,996.75L1108.86,1010.35L1095.26,996.75ZM1109.86,983.15L1123.46,996.75L1109.86,1010.35L1096.26,996.75ZM1110.86,983.15L1124.46,996.75L1110.86,1010.35L1097.26,996.75ZM1111.87,983.15L1125.47,996.75L1111.87,1010.35L1098.27,996.75ZM1112.87,983.15L1126.47,996.75L1112.87,1010.35L1099.27,996.75ZM1113.87,983.15L1127.47,996.75L1113.87,1010.35L1100.27,996.75ZM1114.88,983.15L1128.48,996.75L1114.88,1010.35L1101.28,996.75ZM1115.88,983.15L1129.48,996.75L1115.88,1010.35L1102.28,996.75ZM1116.88,983.15L1130.48,996.75L1116.88,1010.35L1103.28,996.75ZM1117.89,983.15L1131.49,996.75L1117.89,1010.35L1104.29,996.75ZM1118.89,983.15L1132.49,996.75L1118.89,1010.35L1105.29,996.75ZM1119.89,983.15L1133.49,996.75L1119.89,1010.35L1106.29,996.75ZM1120.89,983.15L1134.49,996.75L1120.89,1010.35L1107.29,996.75ZM1121.90,983.15L1135.50,996.75L1121.90,1010.35L1108.30,996.75ZM1122.90,983.15L1136.50,996.75L1122.90,1010.35L1109.30,996.75ZM1310.85,983.15L1324.45,996.75L1310.85,1010.35L1297.25,996.75ZM1311.86,983.15L1325.46,996.75L1311.86,1010.35L1298.26,996.75ZM1312.86,983.15L1326.46,996.75L1312.86,1010.35L1299.26,996.75ZM1313.87,983.15L1327.47,996.75L1313.87,1010.35L1300.27,996.75ZM1314.87,983.15L1328.47,996.75L1314.87,1010.35L1301.27,996.75ZM1315.88,983.15L1329.48,996.75L1315.88,1010.35L1302.28,996.75ZM1316.88,983.15L1330.48,996.75L1316.88,1010.35L1303.28,996.75ZM1317.89,983.15L1331.49,996.75L1317.89,1010.35L1304.29,996.75ZM1318.89,983.15L1332.49,996.75L1318.89,1010.35L1305.29,996.75ZM1319.90,983.15L1333.50,996.75L1319.90,1010.35L1306.30,996.75ZM1207.50,1203.90L1221.10,1217.50L1207.50,1231.10L1193.90,1217.50ZM1210.60,1197.40L1224.20,1211.00L1210.60,1224.60L1197.00,1211.00ZM1214.00,1228.15L1227.60,1241.75L1214.00,1255.35L1200.40,1241.75ZM1218.35,1258.50L1231.95,1272.10L1218.35,1285.70L1204.75,1272.10ZM1219.45,1258.50L1233.05,1272.10L1219.45,1285.70L1205.85,1272.10ZM1220.55,1258.50L1234.15,1272.10L1220.55,1285.70L1206.95,1272.10ZM1221.65,1258.50L1235.25,1272.10L1221.65,1285.70L1208.05,1272.10ZM1224.90,1289.40L1238.50,1303.00L1224.90,1316.60L1211.30,1303.00ZM1257.50,1377.90L1271.10,1391.50L1257.50,1405.10L1243.90,1391.50ZM1258.57,1377.90L1272.17,1391.50L1258.57,1405.10L1244.97,1391.50ZM1259.64,1377.90L1273.24,1391.50L1259.64,1405.10L1246.04,1391.50ZM1260.71,1377.90L1274.31,1391.50L1260.71,1405.10L1247.11,1391.50ZM1261.79,1377.90L1275.39,1391.50L1261.79,1405.10L1248.19,1391.50ZM1262.86,1377.90L1276.46,1391.50L1262.86,1405.10L1249.26,1391.50ZM1263.93,1377.90L1277.53,1391.50L1263.93,1405.10L1250.33,1391.50ZM1265.00,1377.90L1278.60,1391.50L1265.00,1405.10L1251.40,1391.50ZM1271.40,963.40L1285.00,977.00L1271.40,990.60L1257.80,977.00ZM1299.10,952.40L1312.70,966.00L1299.10,979.60L1285.50,966.00ZM1300.37,952.40L1313.97,966.00L1300.37,979.60L1286.77,966.00ZM1301.63,952.40L1315.23,966.00L1301.63,979.60L1288.03,966.00ZM1302.90,952.40L1316.50,966.00L1302.90,979.60L1289.30,966.00ZM1352.60,1000.15L1366.20,1013.75L1352.60,1027.35L1339.00,1013.75ZM1353.69,1000.15L1367.29,1013.75L1353.69,1027.35L1340.09,1013.75ZM1354.78,1000.15L1368.38,1013.75L1354.78,1027.35L1341.18,1013.75ZM1355.88,1000.15L1369.47,1013.75L1355.88,1027.35L1342.28,1013.75ZM1356.97,1000.15L1370.57,1013.75L1356.97,1027.35L1343.37,1013.75ZM1358.06,1000.15L1371.66,1013.75L1358.06,1027.35L1344.46,1013.75ZM1359.15,1000.15L1372.75,1013.75L1359.15,1027.35L1345.55,1013.75ZM1362.85,1030.65L1376.45,1044.25L1362.85,1057.85L1349.25,1044.25ZM1363.86,1030.65L1377.46,1044.25L1363.86,1057.85L1350.26,1044.25ZM1364.86,1030.65L1378.46,1044.25L1364.86,1057.85L1351.26,1044.25ZM1365.87,1030.65L1379.47,1044.25L1365.87,1057.85L1352.27,1044.25ZM1366.88,1030.65L1380.48,1044.25L1366.88,1057.85L1353.28,1044.25ZM1367.89,1030.65L1381.49,1044.25L1367.89,1057.85L1354.29,1044.25ZM1368.89,1030.65L1382.49,1044.25L1368.89,1057.85L1355.29,1044.25ZM1369.90,1030.65L1383.50,1044.25L1369.90,1057.85L1356.30,1044.25ZM1373.40,1045.15L1387.00,1058.75L1373.40,1072.35L1359.80,1058.75ZM1377.10,1075.15L1390.70,1088.75L1377.10,1102.35L1363.50,1088.75ZM1378.50,1075.15L1392.10,1088.75L1378.50,1102.35L1364.90,1088.75ZM1379.90,1075.15L1393.50,1088.75L1379.90,1102.35L1366.30,1088.75ZM1415.85,1075.15L1429.45,1088.75L1415.85,1102.35L1402.25,1088.75ZM1416.85,1075.15L1430.45,1088.75L1416.85,1102.35L1403.25,1088.75ZM1417.86,1075.15L1431.46,1088.75L1417.86,1102.35L1404.26,1088.75ZM1418.86,1075.15L1432.46,1088.75L1418.86,1102.35L1405.26,1088.75ZM1419.86,1075.15L1433.46,1088.75L1419.86,1102.35L1406.26,1088.75ZM1420.86,1075.15L1434.46,1088.75L1420.86,1102.35L1407.26,1088.75ZM1421.87,1075.15L1435.47,1088.75L1421.87,1102.35L1408.27,1088.75ZM1422.87,1075.15L1436.47,1088.75L1422.87,1102.35L1409.27,1088.75ZM1423.87,1075.15L1437.47,1088.75L1423.87,1102.35L1410.27,1088.75ZM1424.88,1075.15L1438.48,1088.75L1424.88,1102.35L1411.28,1088.75ZM1425.88,1075.15L1439.48,1088.75L1425.88,1102.35L1412.28,1088.75ZM1426.88,1075.15L1440.48,1088.75L1426.88,1102.35L1413.28,1088.75ZM1427.89,1075.15L1441.49,1088.75L1427.89,1102.35L1414.29,1088.75ZM1428.89,1075.15L1442.49,1088.75L1428.89,1102.35L1415.29,1088.75ZM1429.89,1075.15L1443.49,1088.75L1429.89,1102.35L1416.29,1088.75ZM1430.89,1075.15L1444.49,1088.75L1430.89,1102.35L1417.29,1088.75ZM1431.90,1075.15L1445.50,1088.75L1431.90,1102.35L1418.30,1088.75ZM1432.90,1075.15L1446.50,1088.75L1432.90,1102.35L1419.30,1088.75ZM1468.50,1135.90L1482.10,1149.50L1468.50,1163.10L1454.90,1149.50ZM1475.85,1197.30L1489.45,1210.90L1475.85,1224.50L1462.25,1210.90ZM1476.90,1197.30L1490.50,1210.90L1476.90,1224.50L1463.30,1210.90ZM1477.95,1197.30L1491.55,1210.90L1477.95,1224.50L1464.35,1210.90ZM1479.00,1197.30L1492.60,1210.90L1479.00,1224.50L1465.40,1210.90ZM1480.05,1197.30L1493.65,1210.90L1480.05,1224.50L1466.45,1210.90ZM1481.10,1197.30L1494.70,1210.90L1481.10,1224.50L1467.50,1210.90ZM1482.15,1197.30L1495.75,1210.90L1482.15,1224.50L1468.55,1210.90ZM1517.40,1237.65L1531.00,1251.25L1517.40,1264.85L1503.80,1251.25ZM1514.60,1257.65L1528.20,1271.25L1514.60,1284.85L1501.00,1271.25ZM1524.90,1265.15L1538.50,1278.75L1524.90,1292.35L1511.30,1278.75ZM1528.35,1295.90L1541.95,1309.50L1528.35,1323.10L1514.75,1309.50ZM1529.44,1295.90L1543.04,1309.50L1529.44,1323.10L1515.84,1309.50ZM1530.53,1295.90L1544.13,1309.50L1530.53,1323.10L1516.93,1309.50ZM1531.62,1295.90L1545.22,1309.50L1531.62,1323.10L1518.03,1309.50ZM1532.72,1295.90L1546.32,1309.50L1532.72,1323.10L1519.12,1309.50ZM1533.81,1295.90L1547.41,1309.50L1533.81,1323.10L1520.21,1309.50ZM1534.90,1295.90L1548.50,1309.50L1534.90,1323.10L1521.30,1309.50ZM1567.70,1354.40L1581.30,1368.00L1567.70,1381.60L1554.10,1368.00ZM1568.78,1354.40L1582.38,1368.00L1568.78,1381.60L1555.18,1368.00ZM1569.86,1354.40L1583.46,1368.00L1569.86,1381.60L1556.26,1368.00ZM1570.93,1354.40L1584.53,1368.00L1570.93,1381.60L1557.33,1368.00ZM1572.01,1354.40L1585.61,1368.00L1572.01,1381.60L1558.41,1368.00ZM1573.09,1354.40L1586.69,1368.00L1573.09,1381.60L1559.49,1368.00ZM1574.17,1354.40L1587.77,1368.00L1574.17,1381.60L1560.57,1368.00ZM1575.24,1354.40L1588.84,1368.00L1575.24,1381.60L1561.64,1368.00ZM1576.32,1354.40L1589.92,1368.00L1576.32,1381.60L1562.72,1368.00ZM1577.40,1354.40L1591.00,1368.00L1577.40,1381.60L1563.80,1368.00ZM1581.25,1068.15L1594.85,1081.75L1581.25,1095.35L1567.65,1081.75ZM1608.65,1146.65L1622.25,1160.25L1608.65,1173.85L1595.05,1160.25ZM1610.35,1090.90L1623.95,1104.50L1610.35,1118.10L1596.75,1104.50ZM1611.37,1090.90L1624.97,1104.50L1611.37,1118.10L1597.77,1104.50ZM1612.38,1090.90L1625.98,1104.50L1612.38,1118.10L1598.78,1104.50ZM1613.40,1090.90L1627.00,1104.50L1613.40,1118.10L1599.80,1104.50ZM1614.41,1090.90L1628.01,1104.50L1614.41,1118.10L1600.81,1104.50ZM1615.43,1090.90L1629.03,1104.50L1615.43,1118.10L1601.83,1104.50ZM1616.44,1090.90L1630.04,1104.50L1616.44,1118.10L1602.84,1104.50ZM1617.46,1090.90L1631.06,1104.50L1617.46,1118.10L1603.86,1104.50ZM1618.48,1090.90L1632.08,1104.50L1618.48,1118.10L1604.88,1104.50ZM1619.49,1090.90L1633.09,1104.50L1619.49,1118.10L1605.89,1104.50ZM1620.51,1090.90L1634.11,1104.50L1620.51,1118.10L1606.91,1104.50ZM1621.52,1090.90L1635.12,1104.50L1621.52,1118.10L1607.92,1104.50ZM1622.54,1090.90L1636.14,1104.50L1622.54,1118.10L1608.94,1104.50ZM1623.56,1090.90L1637.16,1104.50L1623.56,1118.10L1609.96,1104.50ZM1624.57,1090.90L1638.17,1104.50L1624.57,1118.10L1610.97,1104.50ZM1625.59,1090.90L1639.19,1104.50L1625.59,1118.10L1611.99,1104.50ZM1626.60,1090.90L1640.20,1104.50L1626.60,1118.10L1613.00,1104.50ZM1627.62,1090.90L1641.22,1104.50L1627.62,1118.10L1614.02,1104.50ZM1628.63,1090.90L1642.23,1104.50L1628.63,1118.10L1615.03,1104.50ZM1629.65,1090.90L1643.25,1104.50L1629.65,1118.10L1616.05,1104.50ZM1662.60,1117.65L1676.20,1131.25L1662.60,1144.85L1649.00,1131.25ZM1676.65,1117.65L1690.25,1131.25L1676.65,1144.85L1663.05,1131.25ZM1669.60,1092.15L1683.20,1105.75L1669.60,1119.35L1656.00,1105.75ZM1670.70,1092.15L1684.30,1105.75L1670.70,1119.35L1657.10,1105.75ZM1671.80,1092.15L1685.40,1105.75L1671.80,1119.35L1658.20,1105.75ZM1672.90,1092.15L1686.50,1105.75L1672.90,1119.35L1659.30,1105.75ZM1817.80,1354.20L1831.40,1367.80L1817.80,1381.40L1804.20,1367.80ZM1817.80,1412.20L1831.40,1425.80L1817.80,1439.40L1804.20,1425.80ZM1822.80,1413.90L1836.40,1427.50L1822.80,1441.10L1809.20,1427.50ZM1828.15,1415.70L1841.75,1429.30L1828.15,1442.90L1814.55,1429.30ZM1831.80,1027.50L1845.40,1041.10L1831.80,1054.70L1818.20,1041.10ZM1834.40,1068.20L1848.00,1081.80L1834.40,1095.40L1820.80,1081.80ZM1862.80,1067.40L1876.40,1081.00L1862.80,1094.60L1849.20,1081.00ZM1868.00,1061.40L1881.60,1075.00L1868.00,1088.60L1854.40,1075.00ZM1869.00,1061.40L1882.60,1075.00L1869.00,1088.60L1855.40,1075.00ZM1870.00,1061.40L1883.60,1075.00L1870.00,1088.60L1856.40,1075.00ZM1871.00,1061.40L1884.60,1075.00L1871.00,1088.60L1857.40,1075.00ZM1872.00,1061.40L1885.60,1075.00L1872.00,1088.60L1858.40,1075.00ZM1873.00,1061.40L1886.60,1075.00L1873.00,1088.60L1859.40,1075.00ZM1874.00,1061.40L1887.60,1075.00L1874.00,1088.60L1860.40,1075.00ZM1875.00,1061.40L1888.60,1075.00L1875.00,1088.60L1861.40,1075.00ZM1876.00,1061.40L1889.60,1075.00L1876.00,1088.60L1862.40,1075.00ZM1877.00,1061.40L1890.60,1075.00L1877.00,1088.60L1863.40,1075.00ZM1878.00,1061.40L1891.60,1075.00L1878.00,1088.60L1864.40,1075.00ZM1879.00,1061.40L1892.60,1075.00L1879.00,1088.60L1865.40,1075.00ZM1880.00,1061.40L1893.60,1075.00L1880.00,1088.60L1866.40,1075.00ZM1881.00,1061.40L1894.60,1075.00L1881.00,1088.60L1867.40,1075.00ZM1916.50,1092.10L1930.10,1105.70L1916.50,1119.30L1902.90,1105.70ZM1919.70,1119.50L1933.30,1133.10L1919.70,1146.70L1906.10,1133.10ZM1920.73,1119.50L1934.33,1133.10L1920.73,1146.70L1907.13,1133.10ZM1921.76,1119.50L1935.36,1133.10L1921.76,1146.70L1908.16,1133.10ZM1922.79,1119.50L1936.39,1133.10L1922.79,1146.70L1909.19,1133.10ZM1923.82,1119.50L1937.42,1133.10L1923.82,1146.70L1910.22,1133.10ZM1924.85,1119.50L1938.45,1133.10L1924.85,1146.70L1911.25,1133.10ZM1925.88,1119.50L1939.48,1133.10L1925.88,1146.70L1912.28,1133.10ZM1926.91,1119.50L1940.51,1133.10L1926.91,1146.70L1913.31,1133.10ZM1927.94,1119.50L1941.54,1133.10L1927.94,1146.70L1914.34,1133.10ZM1928.97,1119.50L1942.57,1133.10L1928.97,1146.70L1915.37,1133.10ZM1930.00,1119.50L1943.60,1133.10L1930.00,1146.70L1916.40,1133.10ZM1965.70,1119.50L1979.30,1133.10L1965.70,1146.70L1952.10,1133.10ZM1966.73,1119.50L1980.33,1133.10L1966.73,1146.70L1953.13,1133.10ZM1967.76,1119.50L1981.36,1133.10L1967.76,1146.70L1954.16,1133.10ZM1968.79,1119.50L1982.39,1133.10L1968.79,1146.70L1955.19,1133.10ZM1969.82,1119.50L1983.42,1133.10L1969.82,1146.70L1956.22,1133.10ZM1970.85,1119.50L1984.45,1133.10L1970.85,1146.70L1957.25,1133.10ZM1971.88,1119.50L1985.48,1133.10L1971.88,1146.70L1958.28,1133.10ZM1972.91,1119.50L1986.51,1133.10L1972.91,1146.70L1959.31,1133.10ZM1973.94,1119.50L1987.54,1133.10L1973.94,1146.70L1960.34,1133.10ZM1974.97,1119.50L1988.57,1133.10L1974.97,1146.70L1961.37,1133.10ZM1976.00,1119.50L1989.60,1133.10L1976.00,1146.70L1962.40,1133.10ZM1983.50,1150.10L1997.10,1163.70L1983.50,1177.30L1969.90,1163.70ZM2018.40,1150.10L2032.00,1163.70L2018.40,1177.30L2004.80,1163.70Z"/></g>
<g stroke="#FF0000" stroke-width="8" stroke-linecap="butt" shape-rendering="crispEdges">
<line x1="638.25" y1="1091.75" x2="637.2" y2="1439.4"/>
<line x1="1029.75" y1="1098.25" x2="1027.5" y2="1445.5"/>
<line x1="1282.25" y1="1115.75" x2="1281.5" y2="1463.5"/>
<line x1="1596.5" y1="1105" x2="1595.2" y2="1452.5"/>
<line x1="1833" y1="1101.9" x2="1831.4" y2="1449.6"/>
</g>
<line x1="1168.5" y1="1482.5" x2="701.0" y2="1406.5" stroke="#000" stroke-width="3.8" stroke-linecap="round" shape-rendering="crispEdges"/><path d="M680.8,1403.2L704.8,1396.0L701.2,1417.7Z" fill="#000" shape-rendering="crispEdges"/>
<line x1="1287.8" y1="1470.3" x2="1085.2" y2="1422.0" stroke="#000" stroke-width="3.8" stroke-linecap="round" shape-rendering="crispEdges"/><path d="M1065.3,1417.2L1089.7,1411.7L1084.6,1433.1Z" fill="#000" shape-rendering="crispEdges"/>
<line x1="1399.8" y1="1434.1" x2="1314.7" y2="1380.5" stroke="#000" stroke-width="3.8" stroke-linecap="round" shape-rendering="crispEdges"/><path d="M1297.4,1369.6L1322.3,1372.3L1310.6,1390.9Z" fill="#000" shape-rendering="crispEdges"/>
<line x1="1505.4" y1="1431.9" x2="1554.2" y2="1408.9" stroke="#000" stroke-width="3.8" stroke-linecap="round" shape-rendering="crispEdges"/><path d="M1572.8,1400.2L1557.1,1419.7L1547.8,1399.8Z" fill="#000" shape-rendering="crispEdges"/>
<line x1="1587.6" y1="1450.7" x2="1803.8" y2="1394.9" stroke="#000" stroke-width="3.8" stroke-linecap="round" shape-rendering="crispEdges"/><path d="M1823.7,1389.8L1804.7,1406.1L1799.2,1384.8Z" fill="#000" shape-rendering="crispEdges"/>
<text font-size="42" fill="#FF0000" x="1303.5" y="1484" textLength="277.71" lengthAdjust="spacingAndGlyphs">Hydraulic flush</text>
</svg></body></html>
